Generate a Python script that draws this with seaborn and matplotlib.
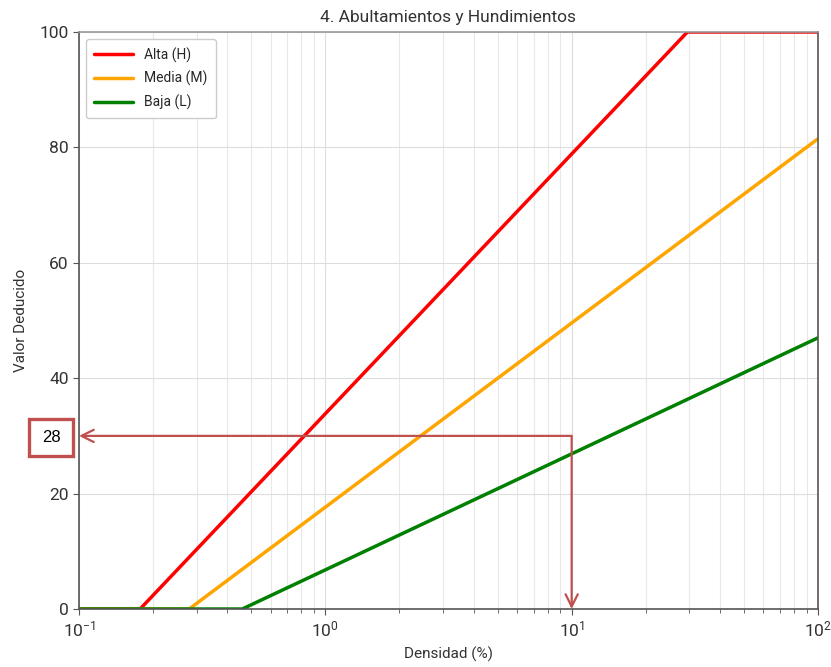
import numpy as np
import pandas as pd
import matplotlib
matplotlib.use("Agg")
import matplotlib.pyplot as plt
import seaborn as sns
from matplotlib.patches import Rectangle

# Data (breakpoints)
alta_x = [0.1, 0.177, 29.5, 100]
alta_y = [0, 0, 100, 100]
media_x = [0.1, 0.28, 100]
media_y = [0, 0, 81.5]
baja_x = [0.1, 0.46, 100]
baja_y = [0, 0, 47]
series = ["Alta (H)", "Media (M)", "Baja (L)"]
colors = ["#ff0000", "#ffa500", "#008000"]
yticks = [0, 20, 40, 60, 80, 100]
read_x = 10
read_y = 30
read_label = "28"

df = pd.concat([
    pd.DataFrame({"Densidad": alta_x, "Valor": alta_y, "Nivel": series[0]}),
    pd.DataFrame({"Densidad": media_x, "Valor": media_y, "Nivel": series[1]}),
    pd.DataFrame({"Densidad": baja_x, "Valor": baja_y, "Nivel": series[2]}),
])

sns.set_style("white")
plt.rcParams['font.family'] = ['Roboto', 'DejaVu Sans']

W, H = 831, 667
fig = plt.figure(figsize=(W / 100, H / 100), dpi=100)
ax = fig.add_axes([79 / W, 1 - 609 / H, 739 / W, 577 / H])

sns.lineplot(data=df, x="Densidad", y="Valor", hue="Nivel", palette=colors,
             hue_order=series, linewidth=2.5, ax=ax, sort=False, estimator=None)

ax.set_xscale("log")
ax.set_xlim(0.1, 100)
ax.set_ylim(0, 100)
ax.set_yticks(yticks)
ax.grid(True, which="major", color="#dddddd", linewidth=0.8)
ax.grid(True, which="minor", axis="x", color="#e8e8e8", linewidth=0.8)
ax.tick_params(axis="both", which="major", labelsize=12.5, length=4, color="#555555",
               labelcolor="#333333", direction="out")
ax.tick_params(axis="x", which="minor", length=3, color="#555555")
ax.xaxis.set_tick_params(which="both", bottom=True)
ax.yaxis.set_tick_params(left=True)
for s in ax.spines.values():
    s.set_color("#555555")
    s.set_linewidth(1.2)
ax.spines["top"].set_color("#999999")

ax.set_title("4. Abultamientos y Hundimientos", fontsize=12.5, color="#333333", pad=7)
ax.set_xlabel("Densidad (%)", fontsize=11, color="#333333", labelpad=5)
ax.set_ylabel("Valor Deducido", fontsize=11, color="#333333", labelpad=8)

leg = ax.legend(loc="upper left", fontsize=10, frameon=True, framealpha=1,
                edgecolor="#cccccc", handlelength=2.8, borderpad=0.6, labelspacing=0.6)
leg.set_title(None)

arrow_col = "#c0504d"
ax.annotate("", xy=(0.1, read_y), xytext=(read_x, read_y),
            arrowprops=dict(arrowstyle="->", color=arrow_col, lw=1.6,
                            mutation_scale=22, shrinkA=0, shrinkB=0),
            annotation_clip=False)
ax.annotate("", xy=(read_x, 0), xytext=(read_x, read_y),
            arrowprops=dict(arrowstyle="->", color=arrow_col, lw=1.6,
                            mutation_scale=22, shrinkA=0, shrinkB=0),
            annotation_clip=False)
fig.patches.append(Rectangle((29 / W, 1 - 456 / H), 44 / W, 37 / H,
                             transform=fig.transFigure, fc="white", ec=arrow_col,
                             lw=2.4, zorder=5))
fig.text(51 / W, 1 - 437.5 / H, read_label, ha="center", va="center",
         fontsize=12, family=["Liberation Sans"], color="black", zorder=6)

fig.savefig("out.png", dpi=100)
